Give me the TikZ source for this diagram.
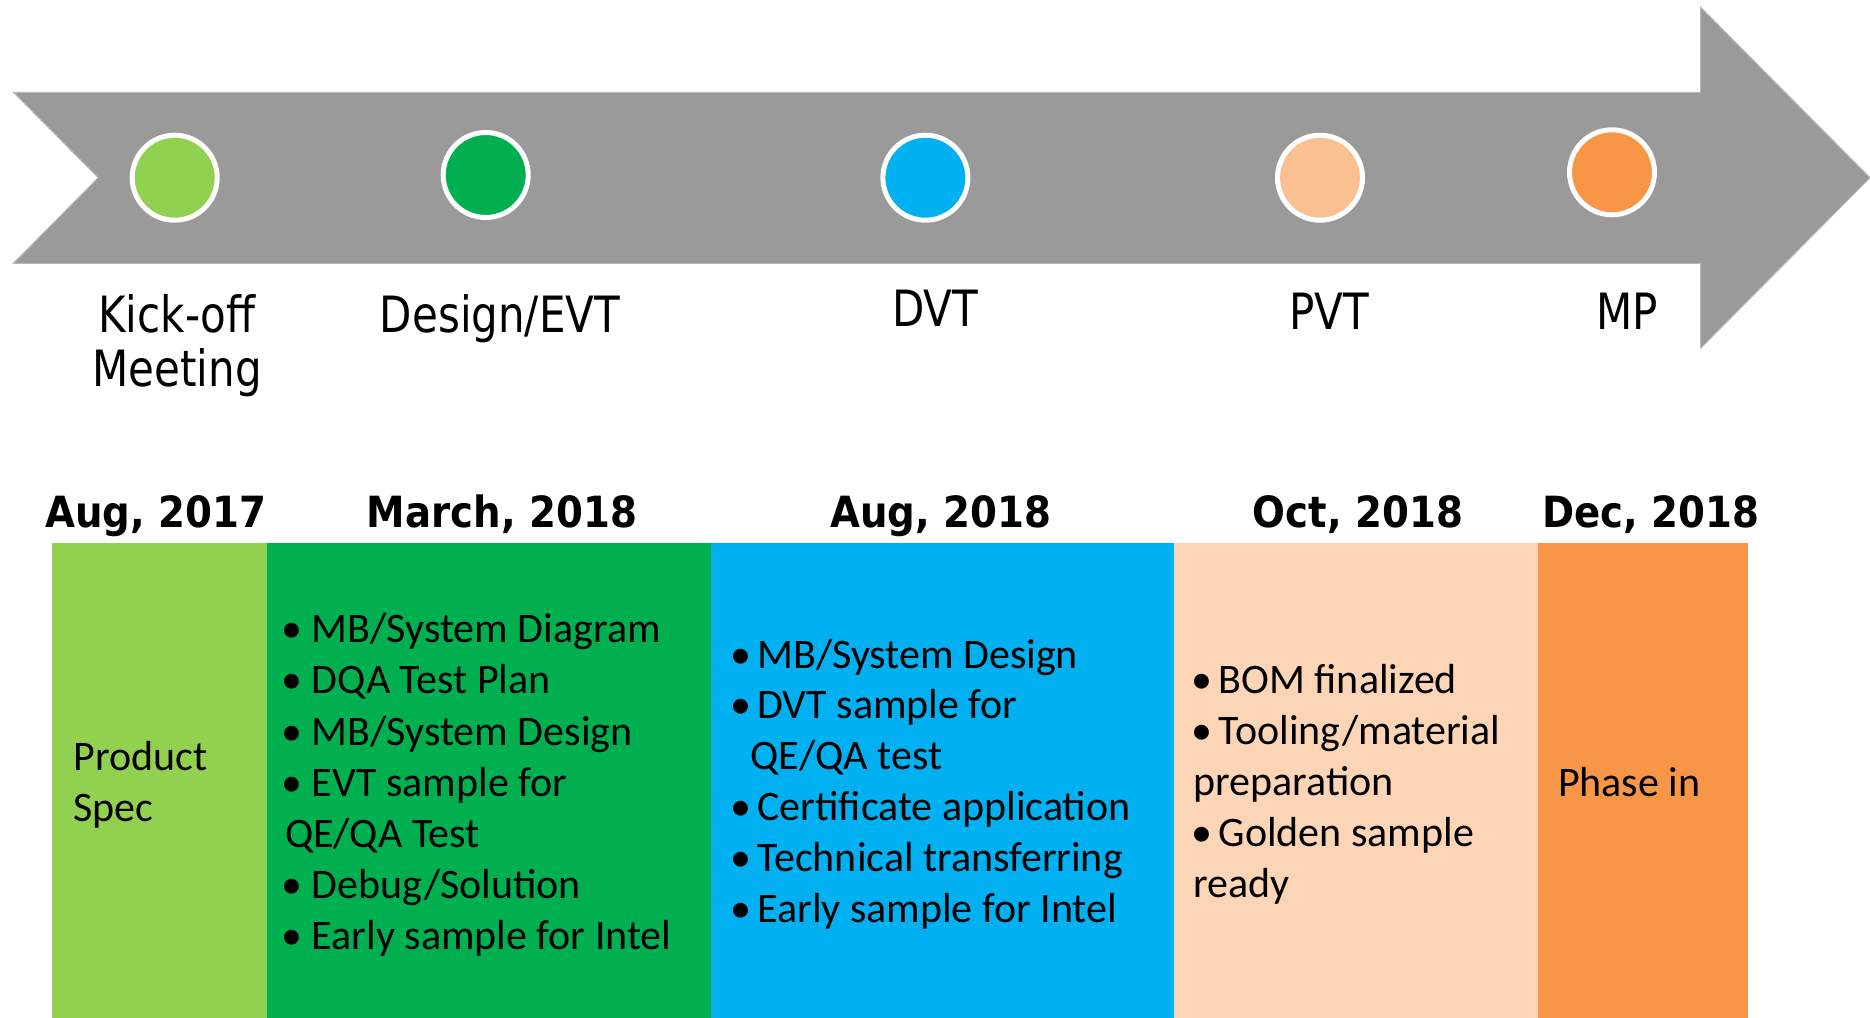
\documentclass[tikz,border=0pt]{standalone}
\usepackage{fontspec}
\setmainfont{Carlito}
\newfontfamily\lblfont{DejaVu Sans}[FakeStretch=0.84]
\newfontfamily\datefont{DejaVu Sans}[FakeStretch=0.9]
\definecolor{arrowgray}{RGB}{154,154,154}
\definecolor{arrowedge}{RGB}{185,185,185}
\definecolor{lgreen}{RGB}{146,208,80}
\definecolor{dgreen}{RGB}{0,176,80}
\definecolor{sky}{RGB}{0,176,240}
\definecolor{peachdot}{RGB}{250,192,144}
\definecolor{peachcol}{RGB}{251,213,181}
\definecolor{orng}{RGB}{247,150,70}
\newcommand\bl[1]{\makebox[#1][l]{•}}
\begin{document}
\begin{tikzpicture}[x=0.5pt,y=-0.5pt,
  milestone/.style={circle, draw=white, line width=2.5pt, minimum size=42.5pt, inner sep=0pt, outer sep=0pt},
  lbl/.style={font=\lblfont\fontsize{25pt}{26.65pt}\selectfont, inner sep=0pt, outer sep=0pt, anchor=base, align=center},
  datelbl/.style={font=\datefont\bfseries\fontsize{21.5pt}{25pt}\selectfont, inner sep=0pt, outer sep=0pt, anchor=base},
  body/.style={font=\fontsize{21pt}{25.6pt}\selectfont, inner sep=0pt, outer sep=0pt, anchor=base west, align=left}]
\useasboundingbox (0,0) rectangle (1870,1018);
% timeline arrow
\fill[arrowgray, draw=arrowedge, line width=0.5pt]
  (13.4,92.3) -- (1700.7,92.3) -- (1700.7,7.3) -- (1870,177.7) -- (1700.7,348.3)
  -- (1700.7,263.3) -- (13.4,263.3) -- (98.2,177.7) -- cycle;
% milestones
\node[milestone, fill=lgreen]   (m1) at (174.7,177.7) {};
\node[milestone, fill=dgreen]   (m2) at (485.7,175) {};
\node[milestone, fill=sky]      (m3) at (925.4,177.7) {};
\node[milestone, fill=peachdot] (m4) at (1320,177.7) {};
\node[milestone, fill=orng]     (m5) at (1612,172.3) {};
% milestone labels (multi-line nodes: base = last line)
\node[lbl] (l1) at (177,386) {Kick-off\\Meeting};
\node[lbl] (l2) at (500,332) {Design/EVT};
\node[lbl] (l3) at (935,326.7) {DVT};
\node[lbl] (l4) at (1329,329) {PVT};
\node[lbl] (l5) at (1627,329) {MP};
% dates
\node[datelbl] (d1) at (156,527.3) {Aug, 2017};
\node[datelbl] (d2) at (502,527.3) {March, 2018};
\node[datelbl] (d3) at (941,527.3) {Aug, 2018};
\node[datelbl] (d4) at (1358,527.3) {Oct, 2018};
\node[datelbl] (d5) at (1651,527.3) {Dec, 2018};
% columns
\fill[lgreen]   (52.3,543.3) rectangle (266.7,1018);
\fill[dgreen]   (266.7,543.3) rectangle (710.7,1018);
\fill[sky]      (710.7,543.3) rectangle (1174,1018);
\fill[peachcol] (1174,543.3) rectangle (1537.7,1018);
\fill[orng]     (1537.7,543.3) rectangle (1748.3,1018);
% column texts (anchored at the baseline of the last line)
\node[body] (t1) at (73.3,821.7) {Product\\Spec};
\node[body] (t2) at (281,949.9) {\bl{15.5pt}MB/System Diagram\\
  \bl{15.5pt}DQA Test Plan\\
  \bl{15.5pt}MB/System Design\\
  \bl{15.5pt}EVT sample for\\
  \hspace*{2pt}QE/QA Test\\
  \bl{15.5pt}Debug/Solution\\
  \bl{15.5pt}Early sample for Intel};
\node[body, font=\fontsize{21pt}{25.45pt}\selectfont] (t3) at (730,922.5) {\bl{13.75pt}MB/System Design\\
  \bl{13.75pt}DVT sample for\\
  \hspace*{10.3pt}QE/QA test\\
  \bl{13.75pt}Certificate application\\
  \bl{13.75pt}Technical transferring\\
  \bl{13.75pt}Early sample for Intel};
\node[body] (t4) at (1191.5,897.8) {\bl{13.6pt}BOM finalized\\
  \bl{13.6pt}Tooling/material\\
  \hspace*{1pt}preparation\\
  \bl{13.6pt}Golden sample\\
  \hspace*{1pt}ready};
\node[body] (t5) at (1558,796.3) {Phase in};
\end{tikzpicture}
\end{document}
